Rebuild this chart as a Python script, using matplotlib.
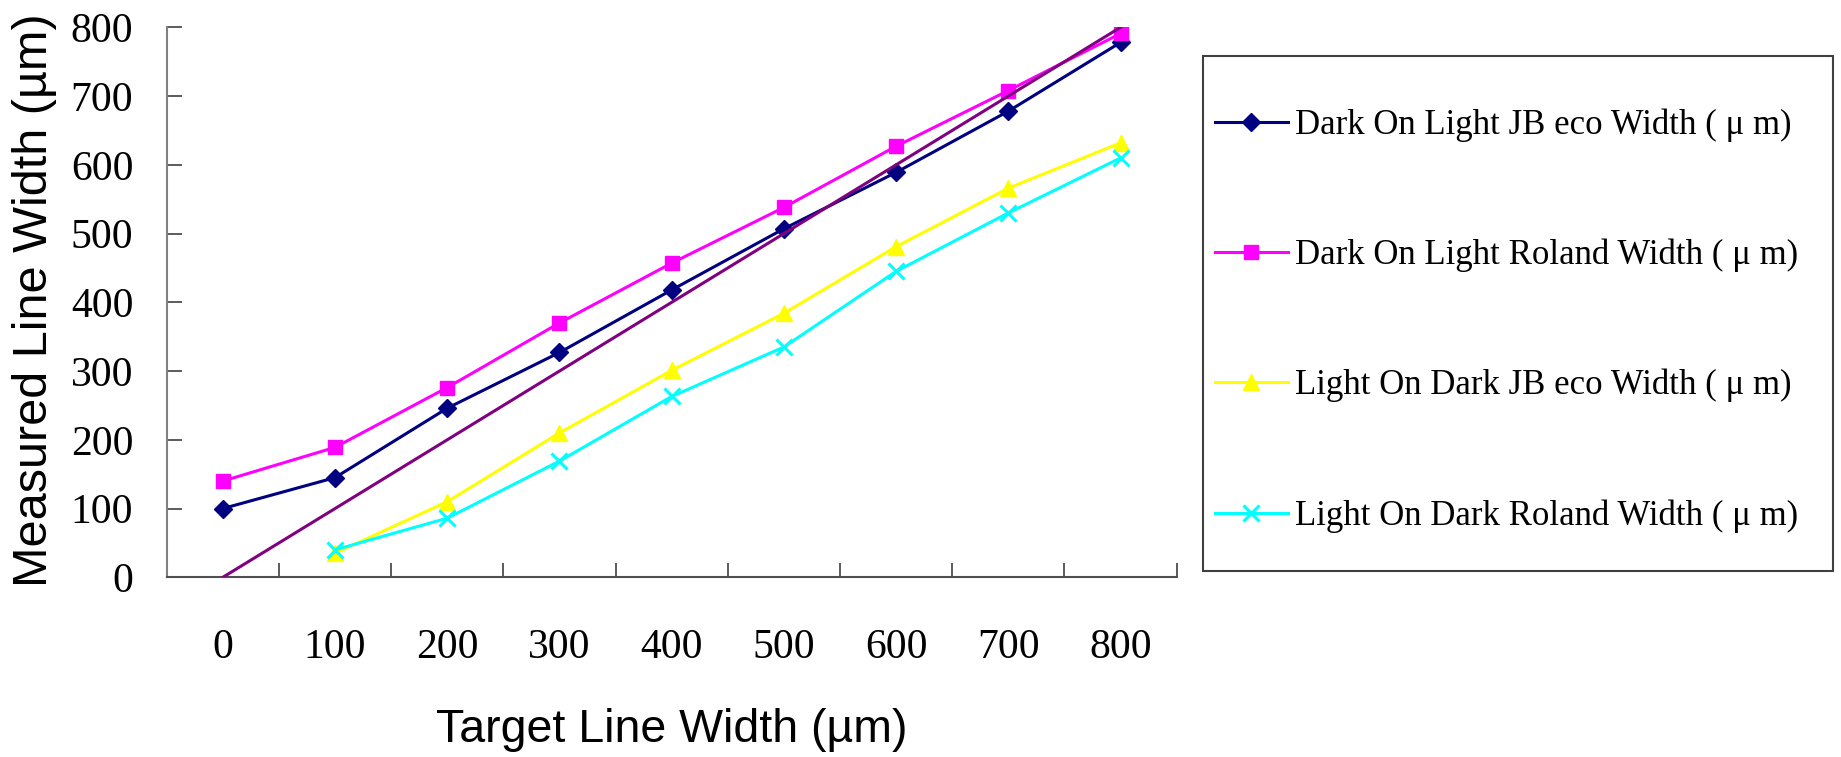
import numpy as np
import matplotlib
matplotlib.use("Agg")
import matplotlib.pyplot as plt
from matplotlib.patches import Rectangle

# ---- data ----
categories = ["0", "100", "200", "300", "400", "500", "600", "700", "800"]
dark_jb = [100, 145, 246, 327, 418, 507, 589, 678, 778]
dark_roland = [140, 189, 276, 370, 457, 538, 627, 708, 791]
light_jb = [np.nan, 35, 110, 210, 301, 384, 481, 566, 632]
light_roland = [np.nan, 40, 86, 169, 263, 335, 445, 530, 610]
reference = [0, 100, 200, 300, 400, 500, 600, 700, 800]
series_labels = [
    "Dark On Light JB eco Width ( \u03bc m)",
    "Dark On Light Roland Width ( \u03bc m)",
    "Light On Dark JB eco Width ( \u03bc m)",
    "Light On Dark Roland Width ( \u03bc m)",
]
y_ticks = [0, 100, 200, 300, 400, 500, 600, 700, 800]

W, H = 1841, 757
fig = plt.figure(figsize=(W / 100, H / 100), dpi=100)
fig.patch.set_facecolor("white")

def px(x0, y0, x1, y1):
    return [x0 / W, 1 - y1 / H, (x1 - x0) / W, (y1 - y0) / H]

ax = fig.add_axes(px(166.7, 27.3, 1176.7, 577.3))
x = np.arange(len(categories))

serif = "Liberation Serif"
sans = "Liberation Sans"

ax.plot(x, dark_jb, color="#000080", lw=2.2, marker="D", ms=9,
        mfc="#000080", mec="#000080", label=series_labels[0], zorder=3)
ax.plot(x, dark_roland, color="#FF00FF", lw=2.2, marker="s", ms=10.5,
        mfc="#FF00FF", mec="#FF00FF", label=series_labels[1], zorder=3)
ax.plot(x, light_jb, color="#FFFF00", lw=2.2, marker="^", ms=12,
        mfc="#FFFF00", mec="#FFFF00", label=series_labels[2], zorder=3)
ax.plot(x, light_roland, color="#00FFFF", lw=2.2, marker="x", ms=11,
        mew=2.2, mec="#00FFFF", label=series_labels[3], zorder=3)
ax.plot(x, reference, color="#800080", lw=2.2, zorder=4)

ax.set_xlim(-0.5, len(categories) - 0.5)
ax.set_ylim(0, 800)

for s in ["top", "right"]:
    ax.spines[s].set_visible(False)
ax.spines["left"].set_color("#808080")
ax.spines["bottom"].set_color("#505050")
ax.spines["left"].set_linewidth(1.5)
ax.spines["bottom"].set_linewidth(1.5)

ax.set_yticks(y_ticks)
ax.set_yticklabels([str(v) for v in y_ticks], fontfamily=serif, fontsize=30)
ax.tick_params(axis="y", direction="in", length=11, width=1.2,
               color="#404040", pad=24)

ax.set_xticks(x)
ax.set_xticklabels(categories, fontfamily=serif, fontsize=30)
ax.tick_params(axis="x", which="major", length=0, pad=37)
ax.set_xticks(np.arange(0.5, len(categories), 1.0), minor=True)
ax.tick_params(axis="x", which="minor", direction="in", length=10,
               width=1.2, color="#404040")

fig.text(671.7 / W, 1 - 730 / H, "Target Line Width (\u00b5m)",
         ha="center", va="center", fontfamily=sans, fontsize=33.5)
fig.text(35 / W, 1 - 300 / H, "Measured Line Width (\u00b5m)",
         ha="center", va="center", rotation=90, fontfamily=sans, fontsize=35)

# legend frame
fig.patches.append(Rectangle((1203 / W, 1 - 571 / H), (1833 - 1203) / W,
                             (571 - 56) / H, transform=fig.transFigure,
                             fill=False, edgecolor="#404040", lw=1.5))
handles, labels = ax.get_legend_handles_labels()
leg = fig.legend(handles, labels, loc="center left",
                 bbox_to_anchor=(1215 / W, 1 - 320.5 / H),
                 frameon=False, borderpad=0, borderaxespad=0,
                 handlelength=2.1, handletextpad=0.2, labelspacing=2.79,
                 prop={"family": serif, "size": 25})

fig.savefig("out.png", dpi=100)
